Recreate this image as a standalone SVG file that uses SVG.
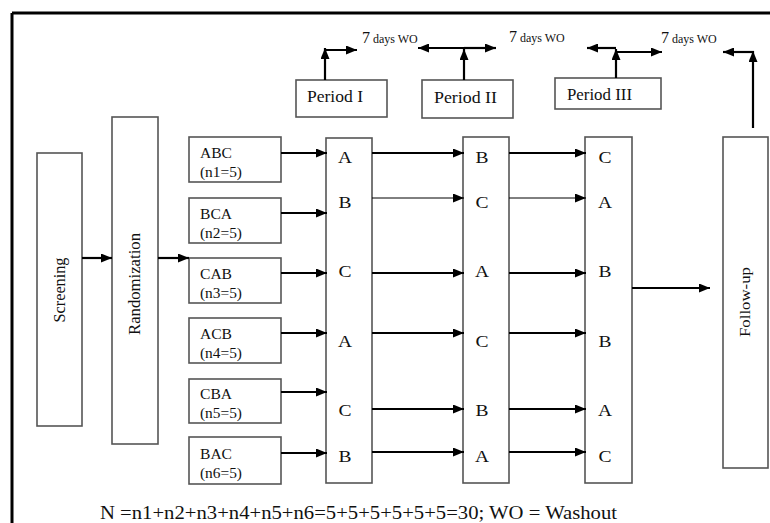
<svg xmlns="http://www.w3.org/2000/svg" width="770" height="523" viewBox="0 0 770 523">
<defs>
<marker id="ah" markerUnits="userSpaceOnUse" markerWidth="11" markerHeight="9" refX="11" refY="4.5" orient="auto">
<path d="M0,0 L11,4.5 L0,9 z" fill="#000"/>
</marker>
<style>
.box{fill:#fff;stroke:#555;stroke-width:1.6}
.ln{stroke:#000;stroke-width:2.2;fill:none;marker-end:url(#ah)}
.thin{stroke:#000;stroke-width:1;fill:none;marker-end:url(#ah)}
.serif{font-family:"Liberation Serif","Times New Roman",serif;fill:#111}
.grp{font-size:14px}
.let{font-size:16px;text-anchor:middle}
.per{font-size:17px}
.wo7{font-size:16px}
.wos{font-size:12px}
</style>
</defs>
<rect x="0" y="0" width="770" height="523" fill="#fff"/>
<g id="border">
<path d="M12,13 H770 M12,13 V523" stroke="#000" stroke-width="3" fill="none"/>
</g>

<g id="screening">
<rect class="box" x="37" y="153" width="45" height="273"/>
<text class="serif" font-size="16" text-anchor="middle" transform="translate(60,290) rotate(-90)" y="5" textLength="65" lengthAdjust="spacingAndGlyphs">Screening</text>
</g>
<g id="randomization">
<rect class="box" x="112" y="117" width="46" height="327"/>
<text class="serif" font-size="16" text-anchor="middle" transform="translate(135,284) rotate(-90)" y="5" textLength="102" lengthAdjust="spacingAndGlyphs">Randomization</text>
</g>

<g id="grp-abc">
<rect class="box" x="189" y="137" width="92" height="45"/>
<text class="serif grp" x="200" y="158" textLength="32" lengthAdjust="spacingAndGlyphs">ABC</text>
<text class="serif grp" x="200" y="177" textLength="42" lengthAdjust="spacingAndGlyphs">(n1=5)</text>
</g>
<g id="grp-bca">
<rect class="box" x="189" y="198" width="92" height="45"/>
<text class="serif grp" x="200" y="219" textLength="32" lengthAdjust="spacingAndGlyphs">BCA</text>
<text class="serif grp" x="200" y="238" textLength="42" lengthAdjust="spacingAndGlyphs">(n2=5)</text>
</g>
<g id="grp-cab">
<rect class="box" x="189" y="258" width="92" height="45"/>
<text class="serif grp" x="200" y="279" textLength="32" lengthAdjust="spacingAndGlyphs">CAB</text>
<text class="serif grp" x="200" y="298" textLength="42" lengthAdjust="spacingAndGlyphs">(n3=5)</text>
</g>
<g id="grp-acb">
<rect class="box" x="189" y="318" width="92" height="45"/>
<text class="serif grp" x="200" y="339" textLength="32" lengthAdjust="spacingAndGlyphs">ACB</text>
<text class="serif grp" x="200" y="358" textLength="42" lengthAdjust="spacingAndGlyphs">(n4=5)</text>
</g>
<g id="grp-cba">
<rect class="box" x="189" y="379" width="92" height="44"/>
<text class="serif grp" x="200" y="399" textLength="32" lengthAdjust="spacingAndGlyphs">CBA</text>
<text class="serif grp" x="200" y="418" textLength="42" lengthAdjust="spacingAndGlyphs">(n5=5)</text>
</g>
<g id="grp-bac">
<rect class="box" x="189" y="437" width="92" height="47"/>
<text class="serif grp" x="200" y="459" textLength="32" lengthAdjust="spacingAndGlyphs">BAC</text>
<text class="serif grp" x="200" y="478" textLength="42" lengthAdjust="spacingAndGlyphs">(n6=5)</text>
</g>

<g id="period1-col">
<rect class="box" x="326" y="138" width="46" height="345"/>
<text class="serif let" x="345" y="163" textLength="14" lengthAdjust="spacingAndGlyphs">A</text>
<text class="serif let" x="345" y="208" textLength="13" lengthAdjust="spacingAndGlyphs">B</text>
<text class="serif let" x="345" y="277" textLength="13" lengthAdjust="spacingAndGlyphs">C</text>
<text class="serif let" x="345" y="347" textLength="14" lengthAdjust="spacingAndGlyphs">A</text>
<text class="serif let" x="345" y="416" textLength="13" lengthAdjust="spacingAndGlyphs">C</text>
<text class="serif let" x="345" y="462" textLength="13" lengthAdjust="spacingAndGlyphs">B</text>
</g>
<g id="period2-col">
<rect class="box" x="463" y="137" width="46" height="346"/>
<text class="serif let" x="482" y="163" textLength="13" lengthAdjust="spacingAndGlyphs">B</text>
<text class="serif let" x="482" y="208" textLength="13" lengthAdjust="spacingAndGlyphs">C</text>
<text class="serif let" x="482" y="277" textLength="14" lengthAdjust="spacingAndGlyphs">A</text>
<text class="serif let" x="482" y="347" textLength="13" lengthAdjust="spacingAndGlyphs">C</text>
<text class="serif let" x="482" y="416" textLength="13" lengthAdjust="spacingAndGlyphs">B</text>
<text class="serif let" x="482" y="462" textLength="14" lengthAdjust="spacingAndGlyphs">A</text>
</g>
<g id="period3-col">
<rect class="box" x="585" y="137" width="47" height="346"/>
<text class="serif let" x="605" y="163" textLength="13" lengthAdjust="spacingAndGlyphs">C</text>
<text class="serif let" x="605" y="208" textLength="14" lengthAdjust="spacingAndGlyphs">A</text>
<text class="serif let" x="605" y="277" textLength="13" lengthAdjust="spacingAndGlyphs">B</text>
<text class="serif let" x="605" y="347" textLength="13" lengthAdjust="spacingAndGlyphs">B</text>
<text class="serif let" x="605" y="416" textLength="14" lengthAdjust="spacingAndGlyphs">A</text>
<text class="serif let" x="605" y="462" textLength="13" lengthAdjust="spacingAndGlyphs">C</text>
</g>

<g id="followup">
<rect class="box" x="723" y="137" width="45" height="331"/>
<text class="serif" font-size="15" text-anchor="middle" transform="translate(745,302) rotate(-90)" y="5" textLength="70" lengthAdjust="spacingAndGlyphs">Follow-up</text>
</g>

<g id="period-i">
<rect class="box" x="296" y="80" width="91" height="37"/>
<text class="serif per" x="307" y="102" textLength="56" lengthAdjust="spacingAndGlyphs">Period I</text>
</g>
<g id="period-ii">
<rect class="box" x="422" y="80" width="91" height="38"/>
<text class="serif per" x="434" y="103" textLength="63" lengthAdjust="spacingAndGlyphs">Period II</text>
</g>
<g id="period-iii">
<rect class="box" x="555" y="78" width="106" height="31"/>
<text class="serif per" x="567" y="100" textLength="65" lengthAdjust="spacingAndGlyphs">Period III</text>
</g>

<g id="wo-labels">
<text class="serif" x="362" y="43"><tspan class="wo7">7</tspan><tspan class="wos"> days WO</tspan></text>
<text class="serif" x="509" y="42"><tspan class="wo7">7</tspan><tspan class="wos"> days WO</tspan></text>
<text class="serif" x="661" y="43"><tspan class="wo7">7</tspan><tspan class="wos"> days WO</tspan></text>
</g>

<g id="connectors">
<path class="ln" d="M82,258 H112"/>
<path class="ln" d="M158,258 H189"/>

<path class="ln" d="M281,153 H327"/>
<path class="ln" d="M281,213 H327"/>
<path class="ln" d="M281,273 H327"/>
<path class="ln" d="M281,333 H327"/>
<path class="ln" d="M281,392 H327"/>
<path class="ln" d="M281,453 H327"/>

<path class="ln" d="M372,153 H464"/>
<path class="thin" d="M372,198 H464"/>
<path class="ln" d="M372,273 H464"/>
<path class="ln" d="M372,333 H464"/>
<path class="ln" d="M372,409 H464"/>
<path class="ln" d="M372,452 H464"/>

<path class="ln" d="M509,153 H586"/>
<path class="thin" d="M509,198 H586"/>
<path class="ln" d="M509,273 H586"/>
<path class="ln" d="M509,333 H586"/>
<path class="ln" d="M509,409 H586"/>
<path class="ln" d="M509,452 H586"/>

<path class="ln" d="M632,288 H710"/>

<path class="ln" d="M325,80 V48"/>
<path class="ln" d="M324,50 H357"/>
<path class="ln" d="M464,80 V49"/>
<path class="ln" d="M464,48 H418"/>
<path class="ln" d="M464,48 H496"/>
<path class="ln" d="M616,78 V49"/>
<path class="ln" d="M616,48 H587"/>
<path class="ln" d="M616,52 H662"/>
<path class="ln" d="M753,128 V51"/>
<path class="ln" d="M754,52 H723"/>
</g>

<g id="caption">
<text class="serif" font-size="18" x="100" y="519" textLength="517" lengthAdjust="spacingAndGlyphs">N =n1+n2+n3+n4+n5+n6=5+5+5+5+5+5=30; WO = Washout</text>
</g>
</svg>
